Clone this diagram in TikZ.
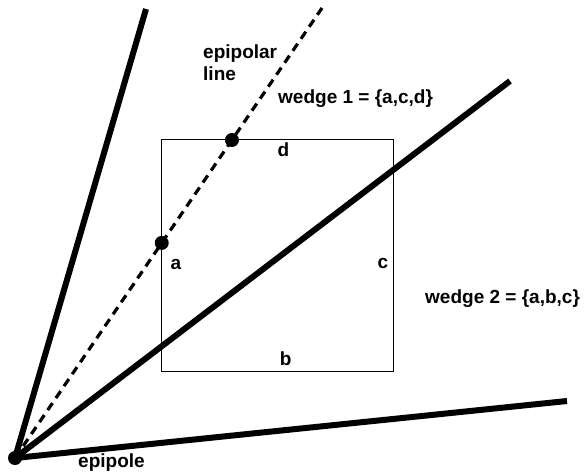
\documentclass[tikz,border=0pt]{standalone}
\usepackage{fontspec}
\setmainfont{Liberation Sans}
\usetikzlibrary{positioning,calc}
\tikzset{
  rayline/.style={line width=6pt, black},
  epiline/.style={line width=3.2pt, black, dash pattern=on 8.5pt off 6pt},
  sqbox/.style={draw=black, line width=1.3pt, minimum width=232pt, minimum height=232pt, inner sep=0pt},
  ptdot/.style={circle, fill=black, minimum size=14pt, inner sep=0pt},
  lbl/.style={font=\fontsize{19}{22}\selectfont\bfseries, inner sep=0pt, align=left},
}
\begin{document}
\begin{tikzpicture}[x=1pt, y=-1pt]
    \useasboundingbox (0,0) rectangle (585,472);
    % epipolo y extremos de las rectas
    \node[ptdot] (epi) at (15,458) {};
    \coordinate (rayA) at (146,9);
    \coordinate (rayB) at (510,81);
    \coordinate (rayC) at (567,401);
    \coordinate (epiend) at (322,8);
    % el cuadrado
    \node[sqbox] (sq) at (277.3,255.5) {};
    % rectas
    \draw[epiline] (epi.center) -- (epiend);
    \draw[rayline] (epi.center) -- (rayA);
    \draw[rayline] (epi.center) -- (rayB);
    \draw[rayline] (epi.center) -- (rayC);
    \node[ptdot] (pa) at ($(epi.center)!0.478!(epiend)$) {};
    \node[ptdot] (pd) at ($(epi.center)!0.7067!(epiend)$) {};
    % textos
    \node[lbl, anchor=base west] (tepi) at (203,80) {epipolar\\line};
    \node[lbl, anchor=base west] (tw1) at (278,103) {wedge 1 = \{a,c,d\}};
    \node[lbl, anchor=base west] (tw2) at (425,303) {wedge 2 = \{a,b,c\}};
    \node[lbl, anchor=base] (ld) at (283.5,156) {d};
    \node[lbl, anchor=base] (la) at (176,269) {a};
    \node[lbl, anchor=base] (lc) at (383,268) {c};
    \node[lbl, anchor=base] (lb) at (285.7,365) {b};
    \node[lbl, anchor=base west] (tep) at (78,467) {epipole};
  \end{tikzpicture}
\end{document}
